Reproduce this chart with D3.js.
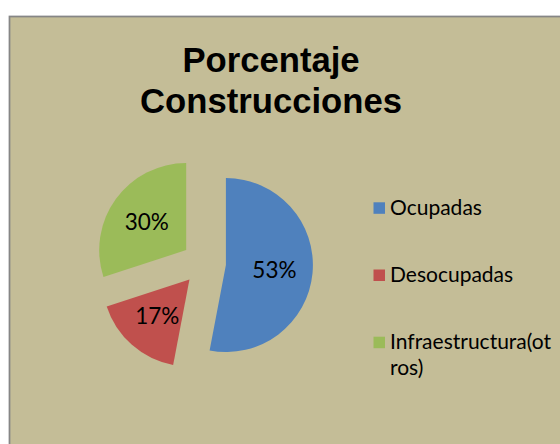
<!DOCTYPE html>
<html>
<head>
<meta charset="utf-8">
<script src="https://cdn.jsdelivr.net/npm/d3@7"></script>
<style>
  html, body { margin: 0; padding: 0; background: #ffffff; }
  svg { display: block; }
</style>
</head>
<body>
<svg id="chart" width="560" height="444"></svg>
<script>
// ---- data ----
const titleLines = ["Porcentaje", "Construcciones"];
const categories = ["Ocupadas", "Desocupadas", "Infraestructura(otros)"];
const values = [53, 17, 30];
const colors = ["#4F81BD", "#C0504D", "#9BBB59"];

// ---- layout ----
const W = 560, H = 444;
const svg = d3.select("#chart");

svg.append("rect")
  .attr("x", 9.5).attr("y", 16.5)
  .attr("width", W).attr("height", H)
  .attr("fill", "#C4BD97")
  .attr("stroke", "#868686")
  .attr("stroke-width", 1.75);

// title
const title = svg.append("text")
  .attr("text-anchor", "middle")
  .attr("font-family", "'Liberation Sans', Arial, sans-serif")
  .attr("font-weight", "bold")
  .attr("font-size", "34.67px")
  .attr("fill", "#000");
title.selectAll("tspan").data(titleLines).join("tspan")
  .attr("x", 271)
  .attr("y", (d, i) => 71.5 + i * 41.6)
  .text(d => d);

// pie
const cx = 204, cy = 263, R = 87, explode = 22;
const pie = d3.pie().sort(null).value(d => d.value).startAngle(0).endAngle(2 * Math.PI);
const data = categories.map((c, i) => ({ name: c, value: values[i], color: colors[i] }));
const arcs = pie(data);
const total = d3.sum(values);
const arc = d3.arc().innerRadius(0).outerRadius(R);
const labelArc = d3.arc().innerRadius(R * 0.56).outerRadius(R * 0.56);

const g = svg.append("g").attr("transform", `translate(${cx},${cy})`);
const slices = g.selectAll("g.slice").data(arcs).join("g")
  .attr("class", "slice")
  .attr("transform", d => {
    const m = (d.startAngle + d.endAngle) / 2;
    return `translate(${explode * Math.sin(m)},${-explode * Math.cos(m)})`;
  });
slices.append("path")
  .attr("d", arc)
  .attr("fill", d => d.data.color);
slices.append("text")
  .attr("transform", d => `translate(${labelArc.centroid(d)})`)
  .attr("text-anchor", "middle")
  .attr("dy", "0.36em")
  .attr("font-family", "Lato, 'Noto Sans', sans-serif")
  .attr("font-size", "22.5px")
  .attr("fill", "#000")
  .text(d => Math.round(d.data.value / total * 100) + "%");

// legend
const legX = 373.5, legY0 = 215, legStep = 67.2, sw = 11.5, maxChars = 18, lineH = 25.7;
const leg = svg.append("g");
const items = leg.selectAll("g").data(data).join("g")
  .attr("transform", (d, i) => `translate(${legX},${legY0 + i * legStep})`);
items.append("rect")
  .attr("x", 0).attr("y", -12.7)
  .attr("width", sw).attr("height", sw)
  .attr("fill", d => d.color);
items.append("text")
  .attr("font-family", "Lato, 'Noto Sans', sans-serif")
  .attr("font-size", "21px")
  .attr("fill", "#000")
  .selectAll("tspan")
  .data(d => {
    const lines = [];
    for (let k = 0; k < d.name.length; k += maxChars) lines.push(d.name.slice(k, k + maxChars));
    return lines;
  })
  .join("tspan")
  .attr("x", 16.5)
  .attr("y", (d, i) => i * lineH)
  .text(d => d);
</script>
</body>
</html>
